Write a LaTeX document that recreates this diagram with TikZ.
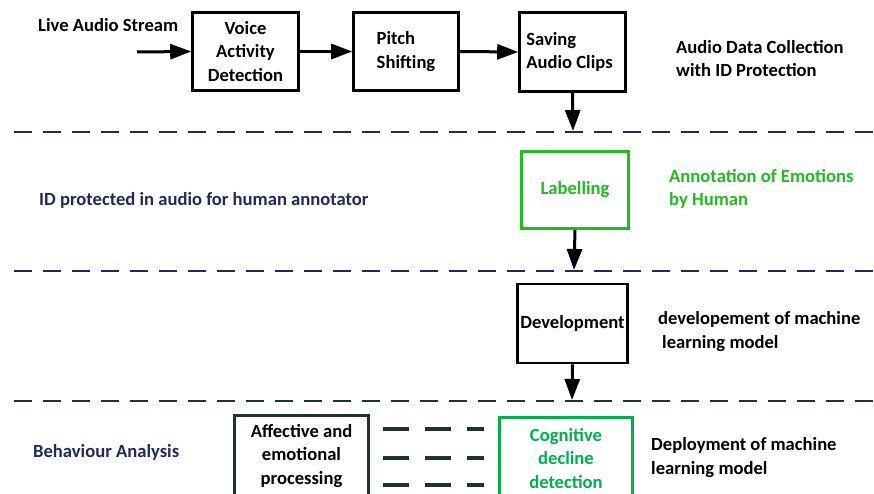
\documentclass[tikz,border=0pt]{standalone}
\usepackage{fontspec}
\setmainfont{Carlito}
\usetikzlibrary{arrows.meta}
\definecolor{navy}{HTML}{1F2A5E}
\definecolor{lgreen}{HTML}{22BB22}
\definecolor{dgreen}{HTML}{00B050}
\definecolor{slate}{HTML}{1E3332}
\begin{document}
\begin{tikzpicture}[x=1pt,y=-1pt,
  every node/.style={font=\fontsize{18.6}{23.5}\selectfont\bfseries, inner sep=0pt},
  box/.style={draw, line width=2.6pt, rectangle, align=center},
  gbox/.style={box, draw=lgreen, text=lgreen},
  arr/.style={line width=3pt, -{Triangle[length=21pt,width=15pt]}},
  sep/.style={line width=2.6pt, dash pattern=on 18pt off 11pt},
  link/.style={line width=4.5pt, slate, dash pattern=on 26pt off 16pt, shorten <=13pt, shorten >=14pt},
  lbl/.style={anchor=base west, align=left}]
\useasboundingbox (0,0) rectangle (874,494);
\clip (0,0) rectangle (874,494);

% top row
\node[box, minimum width=106pt, minimum height=78pt] (vad) at (245.5,51.5) {Voice\\Activity\\Detection};
\node[box, align=left, minimum width=105pt, minimum height=78pt] (pitch) at (406,51.5) {Pitch\\Shifting};
\node[box, align=left, minimum width=106pt, minimum height=79pt] (sav) at (572.5,52) {\hspace*{-6pt}Saving\\\hspace*{-6pt}Audio Clips};
\node[lbl] (live) at (38,32) {Live Audio Stream};
\node[lbl] (adc) at (676,77) {Audio Data Collection\\with ID Protection};
\coordinate (in) at (137,52);
\draw[arr] (in) -- (vad.west);
\draw[arr] (vad.east) -- (pitch.west);
\draw[arr] (pitch.east) -- (sav.west);
\coordinate (d1) at (573,131);
\draw[arr] (sav.south) -- (d1);

% separators
\draw[sep, navy] (14,132) -- (874,132);
\draw[sep, navy] (14,271) -- (874,271);
\draw[sep, slate] (14,401) -- (874,401);

% labelling row
\node[gbox, minimum width=107pt, minimum height=77pt] (lab) at (575,190) {Labelling};
\node[lbl, text=navy] (idp) at (39,206) {ID protected in audio for human annotator};
\node[lbl, text=lgreen] (ann) at (669,206) {Annotation of Emotions\\by Human};
\coordinate (d2) at (574,270);
\draw[arr] (lab.south) -- (d2);

% development row
\node[box, minimum width=110pt, minimum height=79pt] (dev) at (572.5,323.5) {Development};
\node[lbl] (devl) at (658,348) {developement of machine\\\hspace*{4pt}learning model};
\coordinate (d3) at (572,400);
\draw[arr] (dev.south) -- (d3);

% bottom row
\node[box, draw=slate, minimum width=134pt, minimum height=81pt] (aff) at (301.5,456) {Affective and\\emotional\\processing};
\node[gbox, draw=dgreen, text=dgreen, minimum width=133pt, minimum height=82pt] (cog) at (566,458.5) {Cognitive\\decline\\detection};
\node[lbl, text=navy] (beh) at (33,457) {Behaviour Analysis};
\node[lbl] (dep) at (651,474) {Deployment of machine\\learning model};
\coordinate (a1) at ([yshift=27pt]aff.east);
\coordinate (a2) at ([yshift=-2pt]aff.east);
\coordinate (a3) at ([yshift=-29pt]aff.east);
\draw[link] (a1) -- (a1 -| cog.west);
\draw[link] (a2) -- (a2 -| cog.west);
\draw[link] (a3) -- (a3 -| cog.west);
\end{tikzpicture}
\end{document}
